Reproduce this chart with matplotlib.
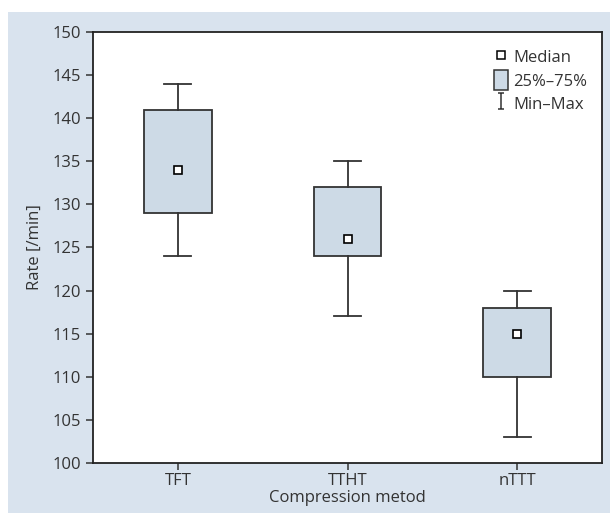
import matplotlib.pyplot as plt
from matplotlib.patches import Patch, Rectangle
from matplotlib.lines import Line2D
from matplotlib.path import Path

plt.rcParams['font.family'] = ['Open Sans', 'DejaVu Sans']

# data
methods = ['TFT', 'TTHT', 'nTTT']
rate_min = [124, 117, 103]
rate_q1 = [129, 124, 110]
rate_med = [134, 126, 115]
rate_q3 = [141, 132, 118]
rate_max = [144, 135, 120]

panel = '#d9e3ee'
boxcol = '#cddae6'
dark = '#333333'
txt = '#333333'
fs = 12

fig = plt.figure(figsize=(6.1, 5.13), dpi=100)
fig.patches.append(Rectangle((8/610, 0), 1, 1 - 12/513, transform=fig.transFigure,
                             facecolor=panel, edgecolor='none', zorder=-10))
ax = fig.add_axes([93/610, 1 - 463/513, (602 - 93)/610, (463 - 32)/513])

stats = []
for i, m in enumerate(methods):
    stats.append(dict(label=m, whislo=rate_min[i], q1=rate_q1[i], med=rate_med[i],
                      q3=rate_q3[i], whishi=rate_max[i], fliers=[]))
pos = [1, 2, 3]
ax.bxp(stats, positions=pos, widths=0.40, patch_artist=True, showfliers=False,
       boxprops=dict(facecolor=boxcol, edgecolor=dark, linewidth=1.3),
       whiskerprops=dict(color=dark, linewidth=1.3),
       capprops=dict(color=dark, linewidth=1.3),
       medianprops=dict(visible=False), capwidths=0.16)
ax.plot(pos, rate_med, 's', ms=5.5, mfc='white', mec='black', mew=1.2, zorder=5)

ax.set_xlim(0.5, 3.5)
ax.set_ylim(100, 150)
ax.set_yticks(range(100, 151, 5))
ax.set_xticks(pos)
ax.set_xticklabels(methods)
ax.tick_params(labelsize=fs, colors=txt, length=5, width=1.1)
ax.tick_params(axis='x', pad=2)
for s in ax.spines.values():
    s.set_color('#222222')
    s.set_linewidth(1.3)
ax.set_ylabel('Rate [/min]', fontsize=fs, color=txt, labelpad=7)
ax.set_xlabel('Compression metod', fontsize=fs, color=txt, labelpad=1)

# legend symbols
ibar = Path([(-0.4, -1), (0.4, -1), (0, -1), (0, 1), (-0.4, 1), (0.4, 1)],
            [Path.MOVETO, Path.LINETO, Path.MOVETO, Path.LINETO, Path.MOVETO, Path.LINETO])
handles = [
    Line2D([], [], ls='none', marker='s', ms=5.5, mfc='white', mec='black', mew=1.1),
    Patch(facecolor=boxcol, edgecolor=dark, linewidth=1.1),
    Line2D([], [], ls='none', marker=ibar, ms=11, mec=dark, mew=1.1),
]
ax.legend(handles, ['Median', '25%–75%', 'Min–Max'], loc='upper right', frameon=False,
          fontsize=fs, handlelength=0.85, handleheight=1.45, handletextpad=0.3,
          labelspacing=0.2, borderaxespad=0.5, labelcolor=txt)

fig.savefig('out.png', dpi=100, facecolor='white')
